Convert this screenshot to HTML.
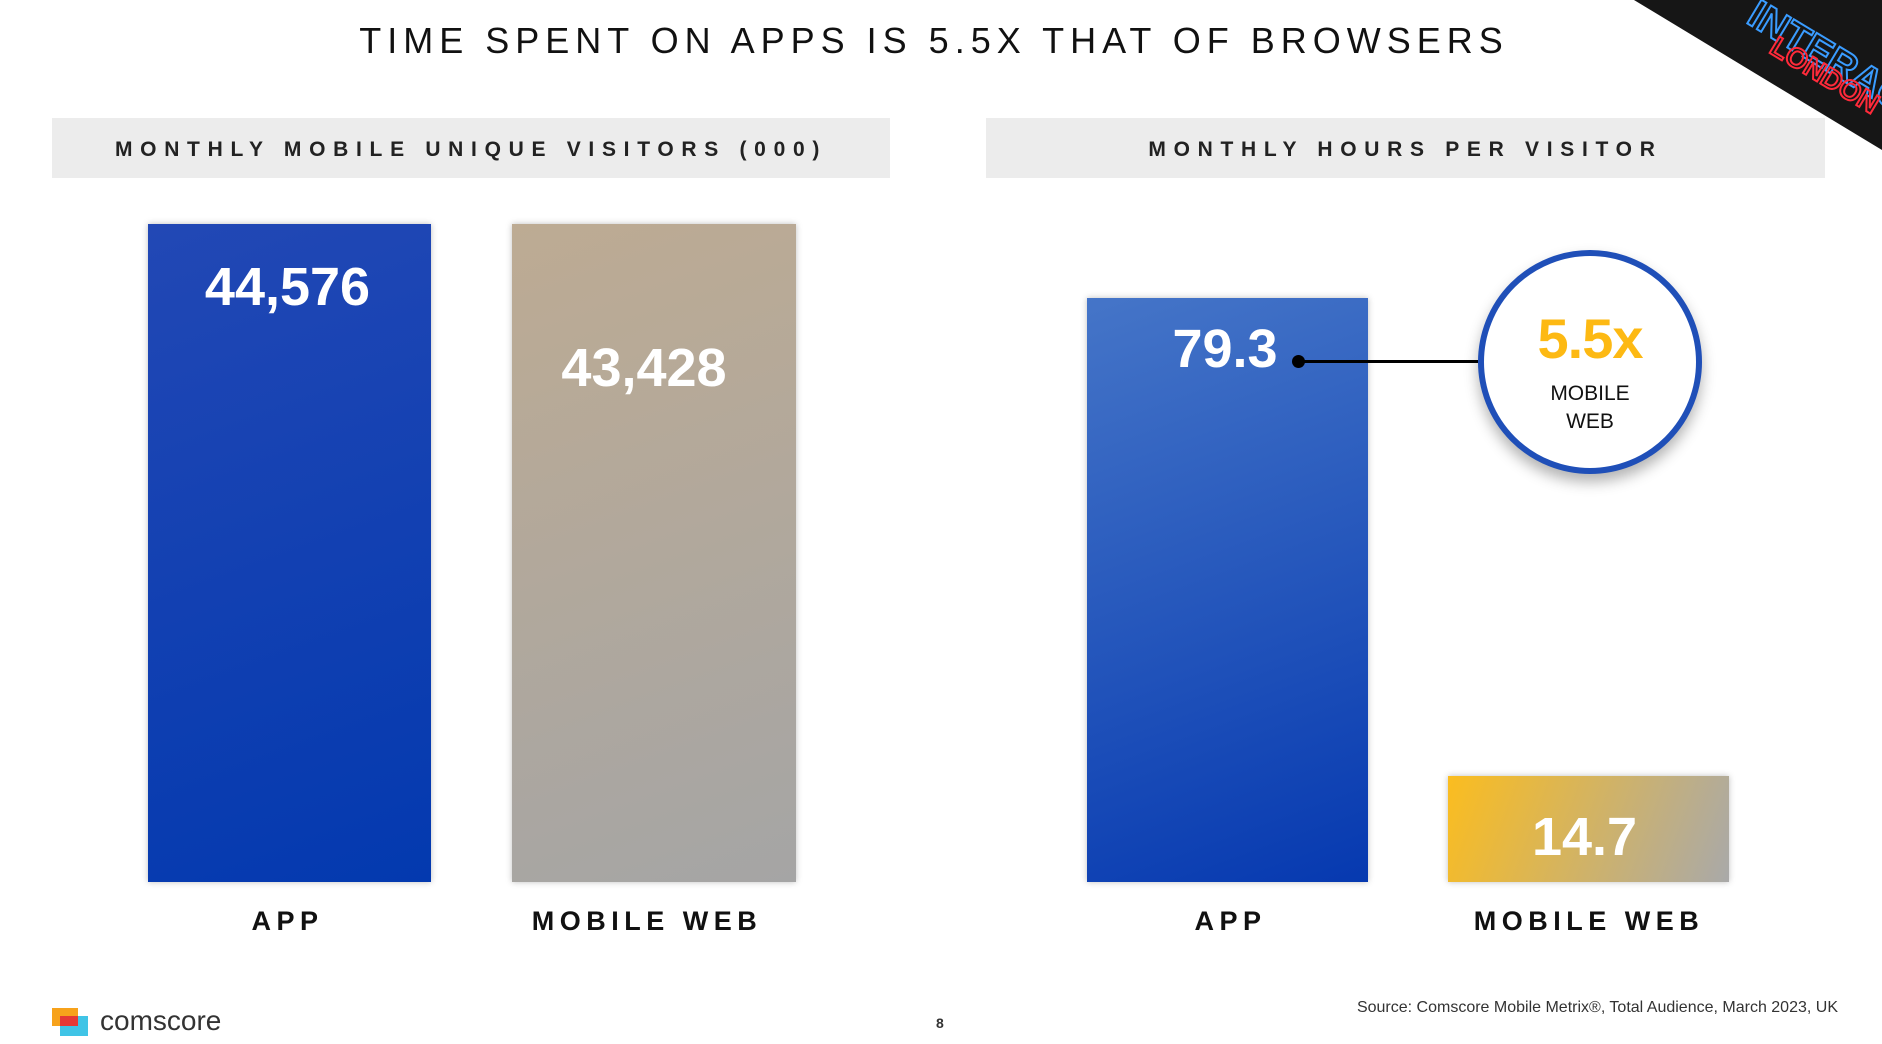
<!DOCTYPE html>
<html><head><meta charset="utf-8"><style>
*{margin:0;padding:0;box-sizing:border-box}
body{width:1882px;height:1044px;background:#fff;position:relative;overflow:hidden;font-family:"Liberation Sans",sans-serif}
.a{position:absolute}
.title{left:0;width:1868px;top:20px;text-align:center;font-size:36px;letter-spacing:6px;color:#111}
.hdr{background:#ececec;height:60px;top:118px;font-weight:bold;font-size:21px;letter-spacing:7.7px;color:#222;text-align:center;line-height:63px}
.bar{box-shadow:0 0 6px rgba(0,0,0,.25)}
.val{color:#fff;font-weight:bold;font-size:54px;text-align:center;font-family:"Liberation Sans",sans-serif;letter-spacing:0}
.cat{top:906px;font-weight:bold;font-size:27px;letter-spacing:5.5px;text-align:center;color:#111}
</style></head><body>
<div class="a title">TIME SPENT ON APPS IS 5.5X THAT OF BROWSERS</div>
<div class="a hdr" style="left:52px;width:838px">MONTHLY MOBILE UNIQUE VISITORS (000)</div>
<div class="a hdr" style="left:986px;width:839px">MONTHLY HOURS PER VISITOR</div>

<div class="a bar" style="left:148px;top:224px;width:283px;height:658px;background:linear-gradient(160deg,#2248b5,#0339af)"></div>
<div class="a val" style="left:146px;width:283px;top:256px">44,576</div>
<div class="a bar" style="left:512px;top:224px;width:284px;height:658px;background:linear-gradient(160deg,#bdab93,#a5a5a5)"></div>
<div class="a val" style="left:502px;width:284px;top:337px">43,428</div>

<div class="a bar" style="left:1087px;top:298px;width:281px;height:584px;background:linear-gradient(160deg,#4575c8,#0639b0)"></div>
<div class="a val" style="left:1087px;width:276px;top:318px">79.3</div>
<div class="a bar" style="left:1448px;top:776px;width:281px;height:106px;background:linear-gradient(110deg,#fbbd1f,#a9a9a9)"></div>
<div class="a val" style="left:1444px;width:281px;top:806px">14.7</div>

<div class="a" style="left:1298px;top:360px;width:180px;height:3px;background:#000"></div>
<div class="a" style="left:1292px;top:355px;width:13px;height:13px;border-radius:50%;background:#000"></div>
<div class="a" style="left:1478px;top:250px;width:224px;height:224px;border-radius:50%;border:6px solid #1f4fb8;background:#fff;box-shadow:0 8px 14px rgba(0,0,0,.3)"></div>
<div class="a" style="left:1478px;top:306px;width:224px;text-align:center;font-weight:bold;font-size:56px;color:#fdb913;letter-spacing:-1px">5.5x</div>
<div class="a" style="left:1478px;top:380px;width:224px;text-align:center;font-size:21px;line-height:28px;color:#111">MOBILE<br>WEB</div>

<div class="a cat" style="left:146px;width:283px">APP</div>
<div class="a cat" style="left:492px;width:310px">MOBILE WEB</div>
<div class="a cat" style="left:1090px;width:281px">APP</div>
<div class="a cat" style="left:1430px;width:318px">MOBILE WEB</div>

<svg class="a" style="left:0;top:0" width="1882" height="200">
<polygon points="1634,0 1882,0 1882,150" fill="#161616"/>
<text x="1745" y="22" fill="none" stroke="#3a9cff" stroke-width="2" font-size="40" font-weight="bold" font-family="Liberation Sans" transform="rotate(31 1745 22)">INTERACT</text>
<text x="1768" y="52" fill="none" stroke="#ff2a3a" stroke-width="2" font-size="28" font-weight="bold" font-family="Liberation Sans" transform="rotate(31 1768 52)">LONDON</text>
</svg>

<div class="a" style="left:52px;top:1008px;width:26px;height:18px;background:#f7a21b"></div>
<div class="a" style="left:60px;top:1016px;width:28px;height:20px;background:#40c4e6"></div>
<div class="a" style="left:60px;top:1016px;width:18px;height:10px;background:#e53935"></div>
<div class="a" style="left:100px;top:1005px;font-size:28px;color:#333">comscore</div>
<div class="a" style="left:936px;top:1015px;font-size:14px;font-weight:bold;color:#333">8</div>
<div class="a" style="right:44px;top:999px;font-size:16px;color:#333">Source: Comscore Mobile Metrix®, Total Audience, March 2023, UK</div>
</body></html>
